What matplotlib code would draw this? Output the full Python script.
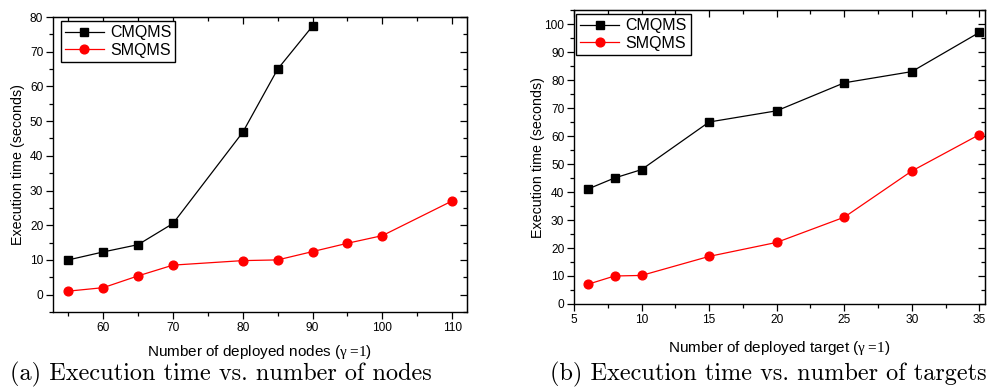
import matplotlib
matplotlib.use("Agg")
import matplotlib.pyplot as plt
from matplotlib.ticker import MultipleLocator

plt.rcParams["font.family"] = ["Liberation Sans", "DejaVu Sans"]
plt.rcParams["mathtext.fontset"] = "custom"
plt.rcParams["mathtext.rm"] = "Liberation Serif"

# execution time vs. number of deployed nodes
nodes_cm = [55, 60, 65, 70, 80, 85, 90]
time_cm_nodes = [10.0, 12.3, 14.4, 20.5, 46.8, 65.0, 77.4]
nodes_sm = [55, 60, 65, 70, 80, 85, 90, 95, 100, 110]
time_sm_nodes = [1.0, 2.0, 5.4, 8.5, 9.8, 10.0, 12.4, 14.8, 17.0, 27.0]

# execution time vs. number of deployed targets
targets = [6, 8, 10, 15, 20, 25, 30, 35]
time_cm_targets = [41.0, 45.0, 48.0, 65.0, 69.0, 79.0, 83.0, 97.0]
time_sm_targets = [7.0, 10.0, 10.2, 17.0, 22.0, 31.0, 47.5, 60.5]

series_names = ["CMQMS", "SMQMS"]
captions = ["(a) Execution time vs. number of nodes",
            "(b) Execution time vs. number of targets"]


def style_axes(ax, xmajor, xminor, ymajor, yminor):
    ax.xaxis.set_major_locator(MultipleLocator(xmajor))
    ax.xaxis.set_minor_locator(MultipleLocator(xminor))
    ax.yaxis.set_major_locator(MultipleLocator(ymajor))
    ax.yaxis.set_minor_locator(MultipleLocator(yminor))
    ax.tick_params(which="both", direction="out", top=False, right=False,
                   labelsize=8.6, pad=2, width=0.9)
    ax.tick_params(which="major", length=5)
    ax.tick_params(which="minor", length=3)
    # mirrored inward ticks on top and right
    top = ax.secondary_xaxis("top")
    top.xaxis.set_major_locator(MultipleLocator(xmajor))
    top.xaxis.set_minor_locator(MultipleLocator(xminor))
    right = ax.secondary_yaxis("right")
    right.yaxis.set_major_locator(MultipleLocator(ymajor))
    right.yaxis.set_minor_locator(MultipleLocator(yminor))
    for sec in (top, right):
        sec.tick_params(which="both", direction="in", labeltop=False,
                        labelright=False, width=0.9)
        sec.tick_params(which="major", length=5)
        sec.tick_params(which="minor", length=3)
    for sp in ax.spines.values():
        sp.set_linewidth(1.0)


fig = plt.figure(figsize=(9.9, 3.88), dpi=100)
ax1 = fig.add_axes([0.0535, 0.196, 0.418, 0.760])
ax2 = fig.add_axes([0.5798, 0.2165, 0.4152, 0.7577])

ax1.plot(nodes_cm, time_cm_nodes, color="black", lw=0.9, marker="s",
         ms=5.5, label=series_names[0])
ax1.plot(nodes_sm, time_sm_nodes, color="red", lw=0.9, marker="o",
         ms=6.3, label=series_names[1])
ax1.set_xlim(52.8, 112.1)
ax1.set_ylim(-5, 80)
style_axes(ax1, 10, 5, 10, 5)
ax1.set_xticks([60, 70, 80, 90, 100, 110])
ax1.set_xlabel(r"Number of deployed nodes ($\mathrm{\gamma=\!1}$)", fontsize=11)
ax1.set_ylabel("Execution time (seconds)", fontsize=10.3)
ax1.xaxis.set_label_coords(0.5, -0.105)
ax1.yaxis.set_label_coords(-0.068, 0.5)

ax2.plot(targets, time_cm_targets, color="black", lw=0.9, marker="s",
         ms=5.5, label=series_names[0])
ax2.plot(targets, time_sm_targets, color="red", lw=0.9, marker="o",
         ms=6.3, label=series_names[1])
ax2.set_xlim(5, 35.42)
ax2.set_ylim(0, 105)
style_axes(ax2, 5, 2.5, 10, 5)
ax2.set_xlabel(r"Number of deployed target ($\mathrm{\gamma=\!1}$)", fontsize=11)
ax2.set_ylabel("Execution time (seconds)", fontsize=10.3)
ax2.xaxis.set_label_coords(0.5, -0.12)
ax2.yaxis.set_label_coords(-0.07, 0.5)

for ax, anchor in ((ax1, (0.02, 0.985)), (ax2, (0.006, 0.985))):
    leg = ax.legend(loc="upper left", bbox_to_anchor=anchor, fontsize=11.5,
                    fancybox=False, edgecolor="black", framealpha=1,
                    handlelength=2.4, handletextpad=0.4, labelspacing=0.15,
                    borderpad=0.25, borderaxespad=0)
    leg.get_frame().set_linewidth(1.0)

fig.text(0.223, 0.02, captions[0], family="cmr10", fontsize=17.5,
         ha="center", va="baseline")
fig.text(0.776, 0.02, captions[1], family="cmr10", fontsize=17.5,
         ha="center", va="baseline")

fig.savefig("out.png", dpi=100)
